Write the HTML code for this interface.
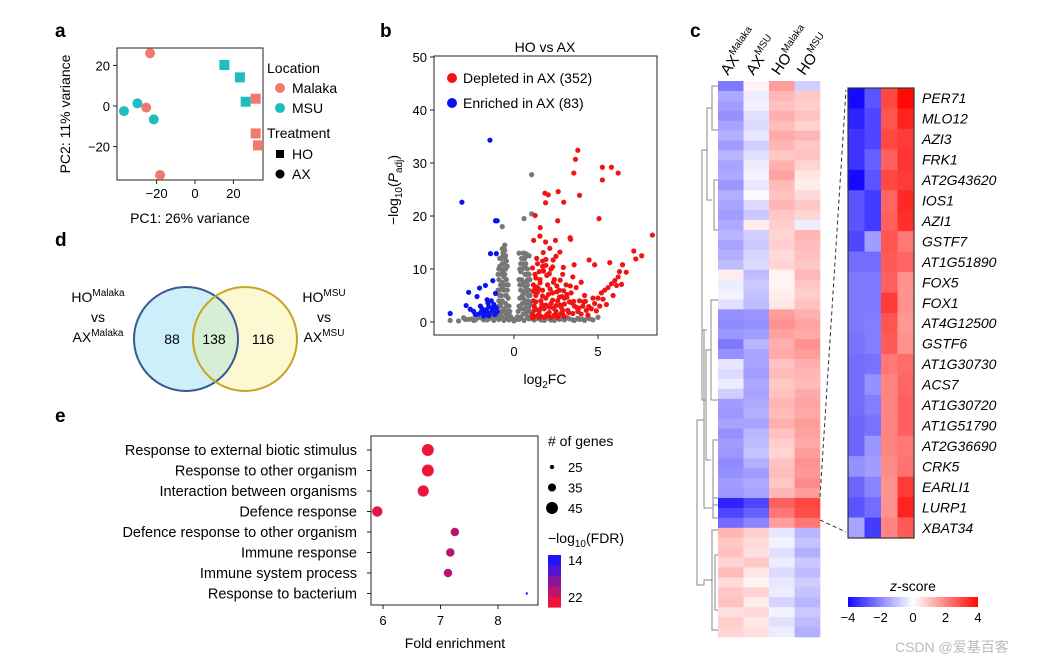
<!DOCTYPE html>
<html><head><meta charset="utf-8"><style>
body{margin:0;background:#fff;}
svg{display:block;font-family:"Liberation Sans","Noto Sans CJK SC",sans-serif;}
</style></head><body>
<svg id="fig" width="1047" height="665" viewBox="0 0 1047 665" xmlns="http://www.w3.org/2000/svg">
<rect width="1047" height="665" fill="#fff"/>
<g font-weight="bold" font-size="19" fill="#000">
<text x="55" y="37">a</text>
<text x="380" y="37">b</text>
<text x="690" y="37">c</text>
<text x="55" y="246">d</text>
<text x="55" y="422">e</text>
</g>
<!-- Panel a -->
<g id="pa" font-size="13">
<rect x="117" y="48" width="146" height="132" fill="none" stroke="#222" stroke-width="1"/>
<text transform="translate(70,114) rotate(-90)" text-anchor="middle" font-size="14">PC2: 11% variance</text>
<text x="190" y="223" text-anchor="middle" font-size="14">PC1: 26% variance</text>
<text x="267" y="73" font-size="14">Location</text>
<circle cx="280" cy="88" r="5" fill="#f0786e"/>
<text x="292" y="93" font-size="14">Malaka</text>
<circle cx="280" cy="108" r="5" fill="#1fbdbd"/>
<text x="292" y="113" font-size="14">MSU</text>
<text x="267" y="138" font-size="14">Treatment</text>
<rect x="276" y="150" width="8" height="8" fill="#000"/>
<text x="292" y="159" font-size="14">HO</text>
<circle cx="280" cy="174" r="4.5" fill="#000"/>
<text x="292" y="179" font-size="14">AX</text>
</g>
<!-- Panel b -->
<g id="pb" font-size="13">
<rect x="434" y="56" width="223" height="279" fill="none" stroke="#222"/>
<text x="545" y="52" text-anchor="middle" font-size="14">HO vs AX</text>
<text transform="translate(398,190) rotate(-90)" text-anchor="middle" font-size="14">−log<tspan font-size="10" dy="4">10</tspan><tspan dy="-4">(</tspan><tspan font-style="italic">P</tspan><tspan font-size="10" dy="4">adj</tspan><tspan dy="-4">)</tspan></text>
<text x="545" y="384" text-anchor="middle" font-size="14">log<tspan font-size="10" dy="4">2</tspan><tspan dy="-4">FC</tspan></text>
</g>
<!-- Panel d -->
<g id="pd" font-size="14">
<circle cx="186" cy="339" r="52" fill="#cdeff9"/>
<circle cx="245" cy="339" r="52" fill="#fbf8d2"/>
<clipPath id="cl"><circle cx="186" cy="339" r="52"/></clipPath>
<circle cx="245" cy="339" r="52" fill="#d6eed3" clip-path="url(#cl)"/>
<circle cx="186" cy="339" r="52" fill="none" stroke="#3a5a95" stroke-width="2"/>
<circle cx="245" cy="339" r="52" fill="none" stroke="#c9a424" stroke-width="2"/>
<text x="172" y="344" text-anchor="middle">88</text>
<text x="214" y="344" text-anchor="middle">138</text>
<text x="263" y="344" text-anchor="middle">116</text>
<text x="98" y="302" text-anchor="middle">HO<tspan font-size="10" dy="-6">Malaka</tspan><tspan x="98" y="322">vs</tspan><tspan x="98" y="342">AX</tspan><tspan font-size="10" dy="-6">Malaka</tspan></text>
<text x="324" y="302" text-anchor="middle">HO<tspan font-size="10" dy="-6">MSU</tspan><tspan x="324" y="322">vs</tspan><tspan x="324" y="342">AX</tspan><tspan font-size="10" dy="-6">MSU</tspan></text>
</g>
<!-- Panel e -->
<g id="pe" font-size="14">
<rect x="371" y="436" width="167" height="169" fill="none" stroke="#222"/>
<text x="455" y="648" text-anchor="middle">Fold enrichment</text>
<text x="548" y="446"># of genes</text>
<text x="548" y="543">−log<tspan font-size="10" dy="4">10</tspan><tspan dy="-4">(FDR)</tspan></text>
</g>
<!-- Panel c -->
<g id="pc" font-size="14"></g>
<text x="895" y="652" font-size="14" fill="#bbb">CSDN @爱基百客</text>
</svg>
<script>
// ---------- data ----------
const pcaX = [-23.4,-25.4,-18.2,-37,-30,-21.5,15.3,23.4,26.4,31.6,31.6,32.8];
const pcaY = [26,-0.8,-34,-2.5,1.3,-6.6,20.2,14.1,2.1,3.6,-13.5,-19.4];
const pcaLoc = ["Malaka","Malaka","Malaka","MSU","MSU","MSU","MSU","MSU","MSU","Malaka","Malaka","Malaka"];
const pcaTrt = ["AX","AX","AX","AX","AX","AX","HO","HO","HO","HO","HO","HO"];
const pcaXTicks = [-20,0,20];
const pcaYTicks = [-20,0,20];

const volYTicks = [0,10,20,30,40,50];
const volXTicks = [0,5];
const blueX = [-1.43,-3.1,-1.1,-1.0,-1.4,-1.05,-1.26,-1.7,-2.05,-2.7,-3.8,-2.85,-2.2,-1.6,-1.1,-2.4,-2.1,-1.9,-1.7,-1.5,-1.3,-1.1,-1.2,-1.5,-2.0,-1.8,-1.05,-1.35,-2.6,-1.15,-1.25,-1.45,-1.65,-1.85,-2.3,-1.0,-1.55,-1.95];
const blueY = [34.3,22.6,19.1,19.1,12.9,12.9,7.8,6.9,6.4,5.6,1.6,3.1,4.8,4.2,5.4,2.0,1.5,2.5,1.8,2.9,2.2,1.6,3.3,1.2,3.0,1.1,2.7,4.0,2.4,1.4,2.6,1.7,2.3,1.5,1.4,2.0,3.6,1.9];
const redX = [3.8,3.66,3.56,3.9,1.84,2.04,2.63,2.96,1.88,2.6,1.26,5.26,5.8,6.2,5.26,5.06,8.24,7.13,7.6,7.25,1.56,1.17,1.54,2.47,3.34,3.37,1.88,4.47,4.8,5.7,6.46,6.68,6.28,2.94,3.58,2.13,1.74,2.33,2.73,
1.1,1.2,1.3,1.15,1.25,1.4,1.5,1.6,1.7,1.55,1.8,1.9,2.0,2.1,2.2,2.3,2.4,2.5,2.6,2.7,2.8,2.9,3.0,3.1,3.2,3.3,3.4,3.5,3.6,3.7,3.8,3.9,4.0,4.1,4.2,4.3,4.4,4.6,4.8,5.0,5.2,5.4,5.6,5.8,6.0,6.2,5.1,4.7,3.5,2.2,1.35,1.7,1.2,1.4,1.6,2.6,3.0,1.9,2.9,4.0,1.45,2.05,2.75,3.25,1.15,1.3,1.65,2.35,2.85,3.45,1.95,2.55,3.15,3.75,4.25,1.25,1.75,
1.1,1.2,1.3,1.4,1.5,1.6,1.7,1.8,1.9,2.0,2.1,2.2,2.3,2.4,2.5,2.6,2.7,2.8,2.9,3.0,1.15,1.35,1.55,1.75,1.95,2.15,2.35,2.55,2.75,2.95,3.15,3.35,3.55,3.85,4.15,4.45,4.9,5.3,5.5,5.9,6.1,6.4,1.1,1.3,1.5,1.7,1.9,2.1,2.3,2.5];
const redY = [32.4,30.7,28.1,23.9,24.3,24.0,24.6,22.6,22.5,19.1,20.1,29.2,29.2,28.1,26.8,19.5,16.4,13.4,12.5,11.9,17.8,15.4,16.2,15.4,15.9,15.6,15.1,11.7,10.8,11.2,10.8,9.4,9.5,10.3,10.8,13.9,13.1,11.7,13.2,
1.5,3,5,7,9,11,2,4,6,8,2.5,4.5,7,1.8,3.5,5.5,8,2,4,6,2.8,1.5,4.5,7,2.2,3.8,5.5,1.6,3,6.5,2,4,1.5,3,5,2.2,1.3,2.5,3.5,4.5,5.5,6,6.5,7.2,7.8,8.5,3,4.5,8.5,10,12,10.5,1,1.2,1.1,1.2,1,11.8,9,7.5,6.3,5.2,3.2,1.8,4,2.4,3.3,2.6,4.8,3.6,1.4,6.8,5.2,2.7,3.9,6.2,9.6,
0.8,2.2,3.8,5.6,0.9,2.6,4.9,0.9,3.2,1.2,2.8,0.9,4.1,1.3,3.1,0.9,4.7,1.6,2.2,3.4,5.8,6.6,7.4,9.7,8.8,6.2,7.5,5.7,7.9,5.9,4.7,6.8,3.9,2.6,3.8,2.9,2.1,4.3,3.3,5.0,6.9,7.1,10.2,8.3,9.5,11.5,10.7,9.1,10.4,12.4];
const greyX = [-0.95,-0.9,-0.85,-0.8,-0.75,-0.7,-0.65,-0.6,-0.55,-0.5,-0.45,-0.4,-0.35,-0.3,-0.25,-0.2,-0.9,-0.8,-0.7,-0.6,-0.6,-0.5,-0.75,-0.55,-0.45,-0.65,-0.85,-0.95,-0.5,-0.4,
0.2,0.25,0.3,0.35,0.4,0.45,0.5,0.55,0.6,0.65,0.7,0.75,0.8,0.85,0.9,0.95,0.5,0.6,0.7,0.8,0.9,0.95,0.45,0.55,0.75,0.65,0.85,0.4,0.3,
-3.8,-3.3,-3,-2.7,-2.4,-2.1,-1.8,-1.5,-1.2,-0.9,-0.6,-0.3,0,0.3,0.6,0.9,1.2,1.5,1.8,2.1,2.4,2.7,3,3.3,3.6,3.9,4.2,4.5,5,-2.2,1.1,2.8,
1.05,1.05,0.6,-0.7,-0.55,0.75,0.55,-0.8,-0.7,-0.9,0.85,0.7,0.9,-0.35,0.35];
const greyY = [1,3,5,7,9,11,13,14,12,10,8,6,4.5,3,2,1,8,10,4,6,8.5,5,2,2.5,1.5,11,12,6,12.5,10.5,
1,2,3,4.5,6,8,10,12,13,12,11,9,7,5,3,1,5,7.5,4,10,12.5,8,2.5,1.5,2,9,6,11,13,
0.3,0.2,0.8,0.5,0.3,0.8,0.4,0.6,0.3,0.5,0.3,0.4,0.2,0.5,0.3,0.6,0.4,0.7,0.3,0.6,0.3,0.5,0.4,0.6,0.3,0.5,0.3,0.6,0.9,1.3,1.2,1.1,
27.8,20.4,19.5,18,14.5,12.8,13,3.5,6.5,10,2.5,6,9,7,7];
const greyDenseX = [-0.95,-0.9,-0.85,-0.8,-0.75,-0.7,-0.65,-0.6,-0.55,-0.5,-0.45,-0.4,-0.35,-0.3,-0.95,-0.85,-0.75,-0.65,-0.55,-0.45,-0.8,-0.7,-0.6,-0.5,-0.9,-0.8,-0.7,-0.6,
0.3,0.4,0.5,0.6,0.7,0.8,0.9,0.95,0.35,0.45,0.55,0.65,0.75,0.85,0.9,0.8,0.7,0.6,0.5,0.95,0.85,0.75,0.65,0.55,
-2.9,-2.5,-2.3,-1.9,-1.6,-1.3,-1.0,-0.8,-0.4,-0.1,0.1,0.4,0.8,1.0,1.3,1.6,1.9,2.2,2.5,2.9,3.2,3.5,3.8,4.1,4.4,4.7,-1.4,-1.7,-0.2,0.2];
const greyDenseY = [2,4,6,3,5,7.5,9.5,11,9,7,5,3,2,1.5,9,10.5,12,12.5,13.5,11.5,1.5,1,2,3.5,10,12,13.8,10,
8,9.5,7,5.5,6.5,8,6,3.5,10,12,11,10.5,7.5,9,2,3,1.5,2.5,3.5,5,4,5.5,3.5,4.5,
0.5,0.6,0.4,0.7,0.4,0.9,0.8,0.9,0.8,0.6,0.5,0.9,0.8,0.7,0.6,0.4,0.8,0.4,0.8,0.6,0.8,0.4,0.7,0.5,0.8,0.4,1.0,0.9,0.7,0.7];

const goTerms = ["Response to external biotic stimulus","Response to other organism","Interaction between organisms","Defence response","Defence response to other organism","Immune response","Immune system process ","Response to bacterium"];
const goFold = [6.78,6.78,6.7,5.9,7.25,7.17,7.13,8.5];
const goGenes = [45,45,43,41,36,36,36,20];
const goFDR = [22,22,22,21.5,20,20,20,14];
const goXTicks = [6,7,8];
const sizeLegend = [25,35,45];

const hmCols = ["AX|Malaka","AX|MSU","HO|Malaka","HO|MSU"];
const hmRows = [
[-2.2,0.2,1.6,-0.8],[-1.4,-0.3,1.2,0.9],[-1.6,-0.2,1.0,0.8],[-1.8,-0.5,1.3,1.0],[-1.5,-0.6,1.1,0.7],[-1.3,-0.4,1.4,1.2],
[-1.6,-0.8,1.2,0.9],[-1.2,-0.5,0.9,1.0],[-1.5,-0.3,1.3,0.7],[-1.4,-0.2,1.5,0.4],[-1.7,-0.4,1.1,0.3],[-1.3,-0.1,1.0,0.6],
[-1.5,-0.6,1.2,0.9],[-1.6,-0.9,0.9,0.7],[-1.4,0.3,0.8,-0.3],[-1.2,-0.8,0.7,1.2],[-1.5,-0.9,0.8,1.1],[-1.3,-0.7,0.6,1.0],
[-1.1,-0.6,0.7,0.9],[0.3,-1.1,0.2,1.2],[-0.3,-0.9,0.2,0.9],[-0.2,-1.0,0.3,0.8],[-0.5,-1.1,0.4,1.0],
[-1.8,-1.7,1.6,1.3],[-1.9,-1.8,1.8,1.5],[-1.7,-1.6,1.5,1.4],[-2.2,-1.2,1.3,1.8],[-1.8,-1.5,1.4,1.6],[-0.4,-1.5,1.0,1.3],
[-0.6,-1.6,1.1,1.2],[-0.3,-1.4,0.9,1.1],[-0.8,-1.5,1.0,1.4],[-1.6,-1.4,1.2,1.5],[-1.7,-1.3,1.1,1.4],[-1.5,-1.5,1.3,1.6],
[-1.8,-1.2,1.0,1.5],[-1.6,-1.1,0.8,1.4],[-1.7,-1.0,0.7,1.6],[-1.9,-1.3,1.0,1.8],[-1.8,-1.6,1.1,1.7],[-1.6,-1.4,0.9,1.9],
[-1.7,-1.5,1.2,1.6],[-3.6,-3.0,2.6,3.0],[-3.0,-2.6,2.2,2.9],[-2.4,-2.0,1.6,2.2],
[1.2,0.8,-0.4,-1.2],[0.9,0.6,-0.2,-1.0],[1.0,0.5,-0.5,-1.3],[0.7,0.9,-0.3,-0.9],[1.1,0.4,-0.6,-1.1],[0.6,0.2,-0.4,-0.8],
[0.9,0.7,-0.3,-1.0],[1.0,0.3,-0.7,-1.2],[0.5,0.6,-0.2,-0.9],[0.8,0.4,-0.5,-1.1],[0.7,0.5,-0.3,-1.3]];
const insetGenes = ["PER71","MLO12","AZI3","FRK1","AT2G43620","IOS1","AZI1","GSTF7","AT1G51890","FOX5","FOX1","AT4G12500","GSTF6","AT1G30730","ACS7","AT1G30720","AT1G51790","AT2G36690","CRK5","EARLI1","LURP1","XBAT34"];
const insetVals = [
[-4,-2.8,3,4],[-3.6,-3,2.8,3.6],[-3.3,-3,3,3.2],[-3.3,-2.6,2.6,3.3],[-4,-2.8,3,3.2],[-2.8,-3.2,2.5,3.5],
[-2.8,-3.2,2.6,3.4],[-3,-1.6,2.8,2.2],[-2.4,-2.4,2.7,2.5],[-2.2,-2.2,2.6,1.8],[-2.2,-2.2,3.2,1.8],[-2.2,-2.1,2.8,1.7],
[-2.3,-2.1,2.7,1.8],[-2.4,-2.3,2.2,2.4],[-2.4,-1.8,2,2.5],[-2.4,-2.1,2,2.6],[-2.5,-2.3,2,2.6],[-2.5,-1.7,2,2.2],
[-1.8,-1.6,1.9,2.3],[-2.5,-2,1.8,3.2],[-2.8,-2.4,1.8,3.6],[-1.5,-3.2,2,2.7]];
const zTicks = [-4,-2,0,2,4];
const fdrTicks = [14,22];

// ---------- helpers ----------
const NS="http://www.w3.org/2000/svg";
function mk(parent, tag, attrs, txt){const e=document.createElementNS(NS,tag);for(const k in attrs)e.setAttribute(k,attrs[k]);if(txt!==undefined)e.textContent=txt;parent.appendChild(e);return e;}
function zc(v){const t=Math.min(1,Math.abs(v)/4);
 if(v<0){return `rgb(${Math.round(255-235*t)},${Math.round(255-245*t)},255)`;}
 return `rgb(255,${Math.round(255-245*t)},${Math.round(255-250*t)})`;}
function fc(v){const t=Math.max(0,Math.min(1,(v-14)/8));return `rgb(${Math.round(30+210*t)},${Math.round(20+0*t)},${Math.round(255-195*t)})`;}

// ---------- panel a ----------
const pa=document.getElementById('pa');
const ax=v=>195+v*1.92, ay=v=>106-v*2.03;
pcaXTicks.forEach(t=>{
 const l=mk(pa,'line',{x1:ax(t),x2:ax(t),y1:180,y2:184,stroke:'#222'});
 
 
 const s=mk(pa,'text',{x:ax(t),y:198,'text-anchor':'middle'},t<0?'−'+(-t):t);
 
 
});
pcaYTicks.forEach(t=>{
 const l=mk(pa,'line',{x1:113,x2:117,y1:ay(t),y2:ay(t),stroke:'#222'});
 
 
 const s=mk(pa,'text',{x:110,y:ay(t)+5,'text-anchor':'end'},t<0?'−'+(-t):t);
 
 
});
pcaX.forEach((x,i)=>{
 const col=pcaLoc[i]==='Malaka'?'#f0786e':'#1fbdbd';
 let e;
 if(pcaTrt[i]==='HO') e=mk(pa,'rect',{x:ax(x)-5,y:ay(pcaY[i])-5,width:10,height:10,fill:col});
 else e=mk(pa,'circle',{cx:ax(x),cy:ay(pcaY[i]),r:5,fill:col});
 
 
});

// ---------- panel b ----------
const pb=document.getElementById('pb');
const bx=v=>514+v*16.8, by=v=>322-v*5.3;
volYTicks.forEach(t=>{
 const l=mk(pb,'line',{x1:430,x2:434,y1:by(t),y2:by(t),stroke:'#222'});
 
 
 const s=mk(pb,'text',{x:427,y:by(t)+5,'text-anchor':'end'},t);
 
 
});
volXTicks.forEach(t=>{
 const l=mk(pb,'line',{x1:bx(t),x2:bx(t),y1:335,y2:339,stroke:'#222'});
 
 
 const s=mk(pb,'text',{x:bx(t),y:356,'text-anchor':'middle'},t);
 
 
});
greyX.forEach((x,i)=>{
 const c=mk(pb,'circle',{cx:bx(x),cy:by(greyY[i]),r:2.6,fill:'#777'});
 
 
});
greyDenseX.forEach((x,i)=>{
 const c=mk(pb,'circle',{cx:bx(x),cy:by(greyDenseY[i]),r:2.6,fill:'#777'});
 
 
});
blueX.forEach((x,i)=>{
 const c=mk(pb,'circle',{cx:bx(x),cy:by(blueY[i]),r:2.6,fill:'#0a14f0'});
 
 
});
redX.forEach((x,i)=>{
 const c=mk(pb,'circle',{cx:bx(x),cy:by(redY[i]),r:2.6,fill:'#f01414'});
 
 
});
let e1=mk(pb,'circle',{cx:452,cy:78,r:5,fill:'#f01414'});


let e2=mk(pb,'text',{x:463,y:83,'font-size':14},'Depleted in AX (352)');


let e3=mk(pb,'circle',{cx:452,cy:103,r:5,fill:'#0a14f0'});


let e4=mk(pb,'text',{x:463,y:108,'font-size':14},'Enriched in AX (83)');



// ---------- panel e ----------
const pe=document.getElementById('pe');
const ex=v=>383+(v-6)*57.5, ey=i=>450+i*20.5;
const sr=g=>1.2+(g-20)*0.19;
goXTicks.forEach(t=>{
 const l=mk(pe,'line',{x1:ex(t),x2:ex(t),y1:605,y2:609,stroke:'#222'});
 
 
 const s=mk(pe,'text',{x:ex(t),y:625,'text-anchor':'middle','font-size':13},t);
 
 
});
goTerms.forEach((t,i)=>{
 const l=mk(pe,'line',{x1:367,x2:371,y1:ey(i),y2:ey(i),stroke:'#222'});
 
 
 const s=mk(pe,'text',{x:357,y:ey(i)+5,'text-anchor':'end','font-size':14.5},t);
 
 
 const c=mk(pe,'circle',{cx:ex(goFold[i]),cy:ey(i),r:sr(goGenes[i]),fill:fc(goFDR[i])});
 
 
});
sizeLegend.forEach((g,i)=>{
 const c=mk(pe,'circle',{cx:552,cy:467+i*20.5,r:sr(g),fill:'#000'});
 
 
 const s=mk(pe,'text',{x:568,y:472+i*20.5,'font-size':13},g);
 
 
});
for(let k=0;k<5;k++){
 const r=mk(pe,'rect',{x:548,y:555+k*10.5,width:13,height:10.6,fill:fc(14+k*2)});
 
 
}
fdrTicks.forEach(t=>{
 const s=mk(pe,'text',{x:568,y:565+(t-14)/8*37,'font-size':13},t);
 
 
});

// ---------- panel c ----------
const pc=document.getElementById('pc');
const hx0=718,cw=25.5,hy0=81,hy1=637,rh=(hy1-hy0)/hmRows.length;
hmRows.forEach((row,i)=>row.forEach((v,j)=>{
 const r=mk(pc,'rect',{x:hx0+j*cw,y:hy0+i*rh,width:cw+0.3,height:rh+0.3,fill:zc(v)});
 
 
}));
hmCols.forEach((c,j)=>{
 const [a,b]=c.split('|');
 const t=mk(pc,'text',{transform:`translate(${hx0+j*cw+10},${76}) rotate(-55)`,'font-size':15});
 
 
 mk(t,'tspan',{},a);
 mk(t,'tspan',{'font-size':10,dy:-7},b);
});
const dend=mk(pc,'path',{d:'M718 86H712V130H718M712 108H707V200H712M718 180H714V230H718M707 150H702V330H707M718 300H711V400H718M711 350H706V460H711M718 440H713V505H718M706 400H702V330M718 498H713V518H718M713 508H704V330M704 420H697V585H704M718 530H712V630H718M712 580H704V585M718 555H715V610H718',fill:'none',stroke:'#888','stroke-width':1});


const ix0=848,icw=16.5,iy0=88,irh=450/insetGenes.length;
insetVals.forEach((row,i)=>row.forEach((v,j)=>{
 const r=mk(pc,'rect',{x:ix0+j*icw,y:iy0+i*irh,width:icw+0.3,height:irh+0.3,fill:zc(v)});
 
 
}));
const fr=mk(pc,'rect',{x:ix0,y:iy0,width:icw*4,height:450,fill:'none',stroke:'#333','stroke-width':1.2});


insetGenes.forEach((g,i)=>{
 const s=mk(pc,'text',{x:922,y:iy0+i*irh+irh/2+5,'font-style':'italic','font-size':14},g);
 
 
});
const d1=mk(pc,'line',{x1:820,y1:497,x2:846,y2:90,stroke:'#333','stroke-dasharray':'4,3'});


const d2=mk(pc,'line',{x1:820,y1:520,x2:846,y2:532,stroke:'#333','stroke-dasharray':'4,3'});


const grad=mk(pc,'linearGradient',{id:'zg'});
[-4,-3,-2,-1,0,1,2,3,4].forEach(v=>mk(grad,'stop',{offset:((v+4)/8*100)+'%','stop-color':zc(v)}));
const zb=mk(pc,'rect',{x:848,y:597,width:130,height:10,fill:'url(#zg)'});


const zt=mk(pc,'text',{x:913,y:591,'text-anchor':'middle','font-size':14},'');


mk(zt,'tspan',{'font-style':'italic'},'z');
mk(zt,'tspan',{},'-score');
zTicks.forEach(t=>{
 const s=mk(pc,'text',{x:848+(t+4)/8*130,y:622,'text-anchor':'middle','font-size':13},t<0?'−'+(-t):t);
 
 
});
</script>
</body></html>
